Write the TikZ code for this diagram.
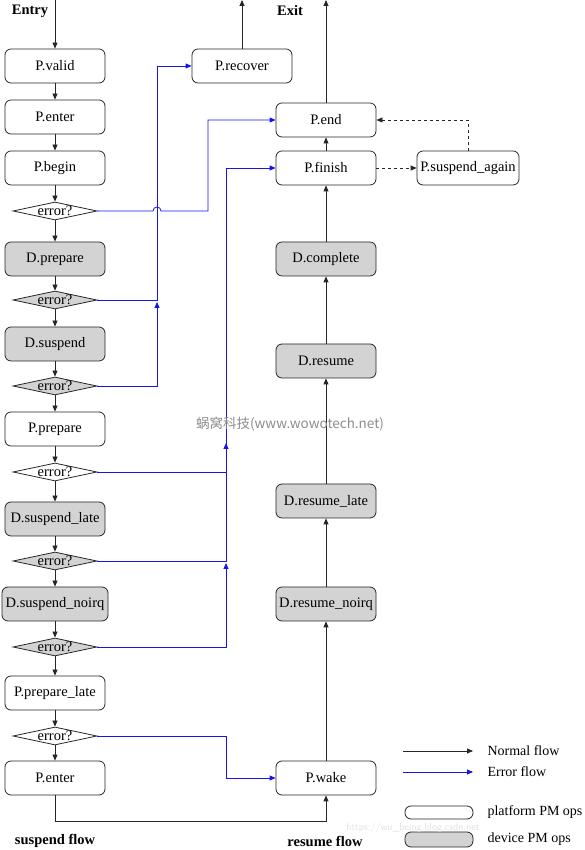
\documentclass[tikz,border=0pt]{standalone}
\usepackage{fontspec}
\setmainfont{Liberation Serif}
\newfontfamily\cjkfont{Noto Sans CJK SC}
\usetikzlibrary{arrows.meta,shapes.geometric}
\definecolor{opgray}{RGB}{211,211,211}
\definecolor{errblue}{RGB}{20,20,235}
\tikzset{
  plat/.style={draw=black!85,line width=0.8pt,rounded corners=6pt,minimum width=100pt,minimum height=34pt,inner sep=1pt,font=\fontsize{14.5}{17}\selectfont},
  dev/.style={plat,fill=opgray},
  errw/.style={diamond,draw=black!85,line width=0.8pt,minimum width=84pt,minimum height=18pt,inner sep=0pt,
    label={center:\fontsize{14.5}{16}\selectfont error?}},
  errg/.style={errw,fill=opgray},
  flow/.style={draw=black!85,line width=0.8pt,-{Triangle[length=6pt,width=5pt]}},
  errflow/.style={draw=errblue,line width=0.8pt,-{Triangle[length=6pt,width=5pt]}},
  title/.style={font=\fontsize{14.5}{16}\selectfont\bfseries},
  legend/.style={anchor=west,font=\fontsize{14}{16}\selectfont}
}
\begin{document}
\begin{tikzpicture}[x=1pt,y=1pt]
\useasboundingbox (0,0) rectangle (585,850);
\node[title] (entry) at (30,839) {Entry};
\node[title] (exit) at (290,839) {Exit};
\node[title] (susp) at (55,9) {suspend flow};
\node[title] (resu) at (325,9) {resume flow};

\node[plat] (pvalid) at (55,784) {P.valid};
\node[plat] (penter) at (55,733) {P.enter};
\node[plat] (pbegin) at (55,682) {P.begin};
\node[errw] (e1) at (55,639) {};
\node[dev] (dprep) at (55,591) {D.prepare};
\node[errg] (e2) at (55,550) {};
\node[dev] (dsusp) at (55,506) {D.suspend};
\node[errg] (e3) at (55,464) {};
\node[plat] (pprep) at (55,421) {P.prepare};
\node[errw] (e4) at (55,378) {};
\node[dev] (dslate) at (55,331) {D.suspend\_late};
\node[errg] (e5) at (55,289) {};
\node[dev,minimum width=106pt] (dsnoirq) at (55,246) {D.suspend\_noirq};
\node[errg] (e6) at (55,203) {};
\node[plat] (pplate) at (55,157) {P.prepare\_late};
\node[errw] (e7) at (55,114) {};
\node[plat] (pent) at (55,72) {P.enter};

\node[plat] (precov) at (242,784) {P.recover};
\node[plat] (pend) at (326,730) {P.end};
\node[plat] (pfin) at (326,682) {P.finish};
\node[plat,minimum width=102pt] (pagain) at (468,682) {P.suspend\_again};
\node[dev] (dcompl) at (326,591) {D.complete};
\node[dev] (dres) at (326,489) {D.resume};
\node[dev] (drlate) at (326,349) {D.resume\_late};
\node[dev] (drnoirq) at (326,246) {D.resume\_noirq};
\node[plat] (pwake) at (326,72) {P.wake};

\coordinate (top1) at (55,850);
\coordinate (top2) at (242,850);
\coordinate (top3) at (326,850);
\draw[flow] (top1) -- (pvalid);
\draw[flow] (pvalid) -- (penter);
\draw[flow] (penter) -- (pbegin);
\draw[flow] (pbegin) -- (e1);
\draw[flow] (e1) -- (dprep);
\draw[flow] (dprep) -- (e2);
\draw[flow] (e2) -- (dsusp);
\draw[flow] (dsusp) -- (e3);
\draw[flow] (e3) -- (pprep);
\draw[flow] (pprep) -- (e4);
\draw[flow] (e4) -- (dslate);
\draw[flow] (dslate) -- (e5);
\draw[flow] (e5) -- (dsnoirq);
\draw[flow] (dsnoirq) -- (e6);
\draw[flow] (e6) -- (pplate);
\draw[flow] (pplate) -- (e7);
\draw[flow] (e7) -- (pent);
\draw[flow] (pent) -- (55,29) -| (pwake);

\draw[flow] (pwake) -- (drnoirq);
\draw[flow] (drnoirq) -- (drlate);
\draw[flow] (drlate) -- (dres);
\draw[flow] (dres) -- (dcompl);
\draw[flow] (dcompl) -- (pfin);
\draw[flow] (pfin) -- (pend);
\draw[flow] (pend) -- (top3);
\draw[flow] (precov) -- (top2);
\draw[flow,dashed] (pfin) -- (pagain);
\draw[flow,dashed] (pagain) |- (pend);

\draw[errflow] (e1.east) -- (153,639) arc[start angle=180,end angle=0,radius=4pt] -- (208,639) |- (pend);
\draw[errflow] (e3.east) -| (157,548);
\draw[errflow] (e2.east) -| (157,784) -- (precov);
\draw[errflow] (e6.east) -| (226,287);
\draw[errflow] (e5.east) -| (226,407);
\draw[errflow] (e4.east) -| (226,682) -- (pfin);
\draw[errflow] (e7.east) -| (226,72) -- (pwake);

\draw[flow] (403,99) -- (473,99);
\node[legend] (lnorm) at (484,99) {Normal flow};
\draw[errflow] (403,78) -- (473,78);
\node[legend] (lerr) at (484,78) {Error flow};
\draw[draw=black!85,line width=0.8pt,rounded corners=6pt] (405,31) rectangle (473,44);
\node[legend] (lplat) at (484,38) {platform PM ops};
\draw[draw=black!85,line width=0.8pt,fill=opgray,rounded corners=6pt] (405,3) rectangle (473,18);
\node[legend] (ldev) at (484,11) {device PM ops};

\node[text=black!45,font=\cjkfont\fontsize{13.5}{15}\selectfont] (wm) at (290,426) {蜗窝科技(www.wowotech.net)};
\node[text=black!12,anchor=east,font=\sffamily\fontsize{10}{12}\selectfont] (wm2) at (483,22) {https://wu\_being.blog.csdn.net};
\end{tikzpicture}
\end{document}
